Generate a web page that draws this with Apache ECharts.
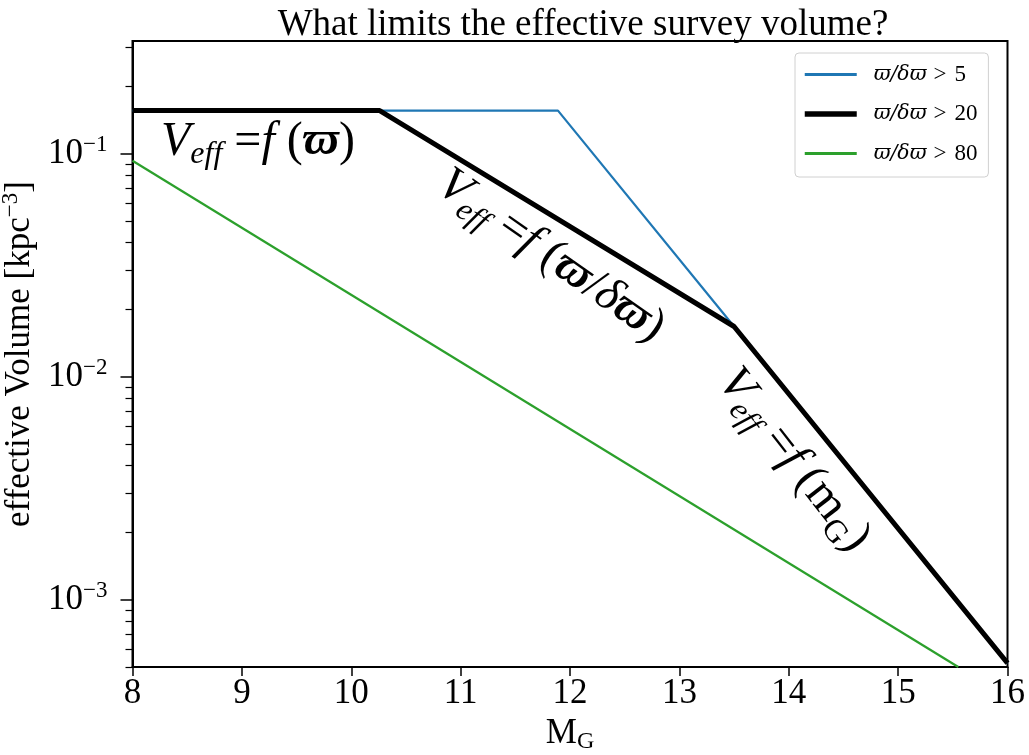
<!DOCTYPE html>
<html><head><meta charset="utf-8">
<script src="https://cdn.jsdelivr.net/npm/echarts@6/dist/echarts.min.js"></script>
<style>html,body{margin:0;padding:0;background:#fff}#c{width:1029px;height:755px}</style>
</head><body><div id="c"></div>
<script>
const FONT = "'Liberation Serif','DejaVu Serif',serif";
const MFONT = "'DejaVu Serif','Liberation Serif',serif";
const seriesNames = ['ϖ/δϖ > 5', 'ϖ/δϖ > 20', 'ϖ/δϖ > 80'];
const seriesColors = ['#1f77b4', '#000000', '#2ca02c'];
const seriesWidths = [2.2, 5, 2.2];
const blueData = [[8, 0.156], [11.89, 0.156], [13.5, 0.0168], [16, 0.00052]];
const blackData = [[8, 0.156], [10.26, 0.156], [13.5, 0.0168], [16, 0.00052]];
const greenData = [[8, 0.093], [15.55, 0.0005]];
const xTicks = [8, 9, 10, 11, 12, 13, 14, 15, 16];
const yMajorTicks = [0.001, 0.01, 0.1];
const yMajorExp = ['−3', '−2', '−1'];
const yMinorTicks = [0.0005, 0.0006, 0.0007, 0.0008, 0.0009,
  0.002, 0.003, 0.004, 0.005, 0.006, 0.007, 0.008, 0.009,
  0.02, 0.03, 0.04, 0.05, 0.06, 0.07, 0.08, 0.09, 0.2, 0.3];

const chart = echarts.init(document.getElementById('c'), null, {renderer: 'canvas'});
const yLabel = v => {
  const i = yMajorTicks.findIndex(t => Math.abs(Math.log10(t) - Math.log10(v)) < 1e-6);
  return i < 0 ? '' : '{b|10}{s|' + yMajorExp[i] + '}';
};
const legendFmt = name => {
  const p = name.split(' > ');
  return '{i|' + p[0] + '}{g|>}{n|' + p[1] + '}';
};
const AF = 48, SF = 32;
const annRich = {
  v: {fontFamily: FONT, fontSize: AF, fontStyle: 'italic', lineHeight: 58},
  e: {fontFamily: FONT, fontSize: SF, fontStyle: 'italic', lineHeight: 36, verticalAlign: 'bottom'},
  f: {fontFamily: FONT, fontSize: AF, fontStyle: 'italic', lineHeight: 58},
  r: {fontFamily: FONT, fontSize: AF, lineHeight: 58},
  d: {fontFamily: FONT, fontSize: AF, fontStyle: 'italic', lineHeight: 58},
  w: {fontFamily: FONT, fontSize: AF, fontStyle: 'italic', fontWeight: 'bold', lineHeight: 58},
  g: {fontFamily: FONT, fontSize: SF, lineHeight: 36, verticalAlign: 'bottom'}
};
const option = {
  animation: false,
  backgroundColor: '#fff',
  title: {
    text: 'What limits the effective survey volume?',
    left: 578, top: 2, textAlign: 'center',
    textStyle: {fontFamily: FONT, fontSize: 37, fontWeight: 'normal', color: '#000'}
  },
  grid: {left: 132.5, right: 21.5, top: 41, bottom: 88, show: true, borderColor: '#000', borderWidth: 2,
    containLabel: false, outerBoundsMode: 'none'},
  legend: {
    left: 795, top: 53, orient: 'vertical',
    padding: [10, 11, 12, 7], itemGap: 16.5, itemWidth: 52, itemHeight: 20,
    borderColor: '#d0d0d0', borderWidth: 1, borderRadius: 4, backgroundColor: '#fff',
    itemStyle: {opacity: 0, borderWidth: 0},
    formatter: legendFmt,
    textStyle: {
      fontFamily: FONT, fontSize: 22, color: '#000', padding: [0, 0, 0, 12],
      rich: {
        i: {fontFamily: MFONT, fontSize: 20.5, fontStyle: 'italic', lineHeight: 20},
        g: {fontFamily: FONT, fontSize: 23, lineHeight: 20, padding: [0, 8, 0, 7]},
        n: {fontFamily: FONT, fontSize: 23, lineHeight: 20}
      }
    },
    data: seriesNames.map((n, i) => ({name: n, lineStyle: {width: seriesWidths[i] + (i === 1 ? 0.5 : 0.6), color: seriesColors[i]}}))
  },
  xAxis: {
    type: 'value', min: 8, max: 16, interval: 1,
    name: '{a|M}{s|G}', nameLocation: 'middle', nameGap: 42,
    nameTextStyle: {rich: {
      a: {fontFamily: FONT, fontSize: 35, lineHeight: 40, color: '#000'},
      s: {fontFamily: FONT, fontSize: 24, lineHeight: 26, verticalAlign: 'bottom', color: '#000'}
    }},
    axisLine: {lineStyle: {color: '#000', width: 2}},
    axisTick: {show: true, length: 9, lineStyle: {color: '#000', width: 1.5}},
    axisLabel: {fontFamily: FONT, fontSize: 35, color: '#000', margin: 9,
      formatter: v => xTicks.includes(v) ? String(v) : ''},
    splitLine: {show: false}
  },
  yAxis: [{
    type: 'log', logBase: 10, min: 0.0005, max: 0.32,
    name: '{a|effective Volume [kpc}{s|−3}{a|]}', nameLocation: 'middle', nameGap: 87,
    nameRotate: 90,
    nameTextStyle: {rich: {
      a: {fontFamily: FONT, fontSize: 35, lineHeight: 40, color: '#000'},
      s: {fontFamily: FONT, fontSize: 23, lineHeight: 22, verticalAlign: 'top', color: '#000'}
    }},
    axisLine: {show: true, lineStyle: {color: '#000', width: 2}},
    axisTick: {show: true, length: 12, customValues: yMajorTicks, lineStyle: {color: '#000', width: 1.5}},
    axisLabel: {customValues: yMajorTicks, margin: 25, formatter: yLabel,
      rich: {
        b: {fontFamily: FONT, fontSize: 35, lineHeight: 40, color: '#000'},
        s: {fontFamily: FONT, fontSize: 23, lineHeight: 22, verticalAlign: 'top', color: '#000'}
      }},
    splitLine: {show: false}
  }, {
    type: 'log', logBase: 10, min: 0.0005, max: 0.32, position: 'left',
    axisLine: {show: false},
    axisTick: {show: true, length: 7, customValues: yMinorTicks, lineStyle: {color: '#000', width: 1.2}},
    axisLabel: {show: false},
    splitLine: {show: false}
  }],
  series: [0, 1, 2].map(i => ({
    name: seriesNames[i], type: 'line', data: [blueData, blackData, greenData][i], symbol: 'none', z: 2 + i,
    lineStyle: {color: seriesColors[i], width: seriesWidths[i]}, itemStyle: {color: seriesColors[i]}
  })),
  graphic: [
    {type: 'text', x: 258, y: 142, z: 10, style: {
      text: '{v|V}{e|eff}{r| =}{f|f}{r| (}{w|ϖ}{r|)}', align: 'center', verticalAlign: 'middle', fill: '#000', rich: annRich}},
    {type: 'text', x: 551, y: 256, rotation: -35 * Math.PI / 180, z: 10, style: {
      text: '{v|V}{e|eff}{r| =}{f|f}{r| (}{w|ϖ}{r|/}{d|δ}{w|ϖ}{r|)}', align: 'center', verticalAlign: 'middle', fill: '#000', rich: annRich}},
    {type: 'text', x: 794, y: 460, rotation: -52 * Math.PI / 180, z: 10, style: {
      text: '{v|V}{e|eff}{r| =}{f|f}{r| (m}{g|G}{r|)}', align: 'center', verticalAlign: 'middle', fill: '#000', rich: annRich}}
  ]
};
chart.setOption(option);
</script>
</body></html>
